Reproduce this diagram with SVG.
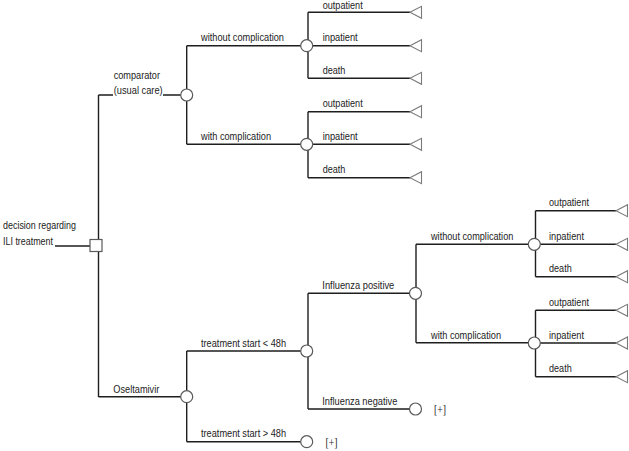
<svg xmlns="http://www.w3.org/2000/svg" width="629" height="451" viewBox="0 0 629 451">
<style>
.ln{stroke:#1e1e1e;stroke-width:1.4;fill:none}
.ch{fill:#fff;stroke:#5a5a5a;stroke-width:1.2}
.dc{fill:#fff;stroke:#5a5a5a;stroke-width:1.2}
.tm{fill:#fff;stroke:#7a7a7a;stroke-width:1.1}
text{font-family:"Liberation Sans",Arial,sans-serif;font-size:10.5px;fill:#222}
.plus{font-family:"Liberation Serif","Times New Roman",serif;font-size:12px;fill:#222}
</style>
<defs>
<polygon id="tri" points="0,0 11.5,-6 11.5,6" class="tm"/>
</defs>
<rect width="629" height="451" fill="#fff"/>
<g id="connectors">
<path class="ln" d="M55,246H91"/>
<path class="ln" d="M98.5,95V397"/>
<path class="ln" d="M98.5,95H113 M163,95H181"/>
<path class="ln" d="M98.5,396.7H181"/>
<path class="ln" d="M186.7,45.7V144.3 M186.7,45.7H301 M186.7,144.3H301"/>
<path class="ln" d="M308,12.3V78.3 M308,12.3H410 M312.5,45.7H410 M308,78.3H410"/>
<path class="ln" d="M308,111.7V177.7 M308,111.7H410 M312.5,144.3H410 M308,177.7H410"/>
<path class="ln" d="M186.7,351V441.7 M186.7,351H301 M186.7,441.7H301"/>
<path class="ln" d="M308,293.3V409 M308,293.3H410 M308,409H410"/>
<path class="ln" d="M416,244.3V342.7 M416,244.3H528.5 M416,342.7H528.5"/>
<path class="ln" d="M535.5,210.7V276.7 M535.5,210.7H616 M540,244.3H616 M535.5,276.7H616"/>
<path class="ln" d="M535.5,310.3V376.7 M535.5,310.3H616 M540,343H616 M535.5,376.7H616"/>
</g>
<g id="root">
<rect class="dc" x="90" y="239.5" width="12" height="12"/>
<text x="3" y="229.3" textLength="73" lengthAdjust="spacingAndGlyphs">decision regarding</text>
<text x="3" y="245.3" textLength="50" lengthAdjust="spacingAndGlyphs">ILI treatment</text>
</g>
<g id="comparator">
<circle class="ch" cx="186.7" cy="95" r="6"/>
<text x="113.7" y="78.7" textLength="46.3" lengthAdjust="spacingAndGlyphs">comparator</text>
<text x="113.7" y="93.7" textLength="49" lengthAdjust="spacingAndGlyphs">(usual care)</text>
</g>
<g id="comp-without">
<circle class="ch" cx="306.7" cy="45.7" r="6"/>
<text x="201" y="41" textLength="83" lengthAdjust="spacingAndGlyphs">without complication</text>
</g>
<g id="comp-with">
<circle class="ch" cx="306.7" cy="144.3" r="6"/>
<text x="201" y="140" textLength="70" lengthAdjust="spacingAndGlyphs">with complication</text>
</g>
<g id="comp-without-leaves">
<use href="#tri" x="410" y="12.3"/>
<use href="#tri" x="410" y="45.7"/>
<use href="#tri" x="410" y="78.3"/>
<text x="322.7" y="9" textLength="40" lengthAdjust="spacingAndGlyphs">outpatient</text>
<text x="322.7" y="41.3" textLength="35" lengthAdjust="spacingAndGlyphs">inpatient</text>
<text x="322.7" y="74" textLength="22.7" lengthAdjust="spacingAndGlyphs">death</text>
</g>
<g id="comp-with-leaves">
<use href="#tri" x="410" y="111.7"/>
<use href="#tri" x="410" y="144.3"/>
<use href="#tri" x="410" y="177.7"/>
<text x="322.7" y="107.3" textLength="40" lengthAdjust="spacingAndGlyphs">outpatient</text>
<text x="322.7" y="140" textLength="35" lengthAdjust="spacingAndGlyphs">inpatient</text>
<text x="322.7" y="173.3" textLength="22.7" lengthAdjust="spacingAndGlyphs">death</text>
</g>
<g id="oseltamivir">
<circle class="ch" cx="186.7" cy="396.7" r="6"/>
<text x="113.3" y="393" textLength="46" lengthAdjust="spacingAndGlyphs">Oseltamivir</text>
</g>
<g id="start-lt48">
<circle class="ch" cx="306.7" cy="351" r="6"/>
<text x="201" y="346.7" textLength="85" lengthAdjust="spacingAndGlyphs">treatment start &lt; 48h</text>
</g>
<g id="start-gt48">
<circle class="ch" cx="306.7" cy="441.7" r="6"/>
<text x="201" y="437.3" textLength="85" lengthAdjust="spacingAndGlyphs">treatment start &gt; 48h</text>
<text class="plus" x="325.5" y="446.5" textLength="12" lengthAdjust="spacingAndGlyphs">[+]</text>
</g>
<g id="flu-positive">
<circle class="ch" cx="415.5" cy="293.3" r="6"/>
<text x="322.3" y="289.3" textLength="72" lengthAdjust="spacingAndGlyphs">Influenza positive</text>
</g>
<g id="flu-negative">
<circle class="ch" cx="415.5" cy="409" r="6"/>
<text x="322.3" y="404.7" textLength="75" lengthAdjust="spacingAndGlyphs">Influenza negative</text>
<text class="plus" x="434" y="414" textLength="12" lengthAdjust="spacingAndGlyphs">[+]</text>
</g>
<g id="flu-without">
<circle class="ch" cx="534.3" cy="244.3" r="6"/>
<text x="431" y="240" textLength="82.3" lengthAdjust="spacingAndGlyphs">without complication</text>
</g>
<g id="flu-with">
<circle class="ch" cx="534.3" cy="343" r="6"/>
<text x="431" y="338.7" textLength="70" lengthAdjust="spacingAndGlyphs">with complication</text>
</g>
<g id="flu-without-leaves">
<use href="#tri" x="616" y="210.7"/>
<use href="#tri" x="616" y="244.3"/>
<use href="#tri" x="616" y="276.7"/>
<text x="549" y="206.3" textLength="40" lengthAdjust="spacingAndGlyphs">outpatient</text>
<text x="549" y="240" textLength="35" lengthAdjust="spacingAndGlyphs">inpatient</text>
<text x="549" y="272.3" textLength="22.7" lengthAdjust="spacingAndGlyphs">death</text>
</g>
<g id="flu-with-leaves">
<use href="#tri" x="616" y="310.3"/>
<use href="#tri" x="616" y="343"/>
<use href="#tri" x="616" y="376.7"/>
<text x="549" y="306" textLength="40" lengthAdjust="spacingAndGlyphs">outpatient</text>
<text x="549" y="338.7" textLength="35" lengthAdjust="spacingAndGlyphs">inpatient</text>
<text x="549" y="372.3" textLength="22.7" lengthAdjust="spacingAndGlyphs">death</text>
</g>
</svg>
